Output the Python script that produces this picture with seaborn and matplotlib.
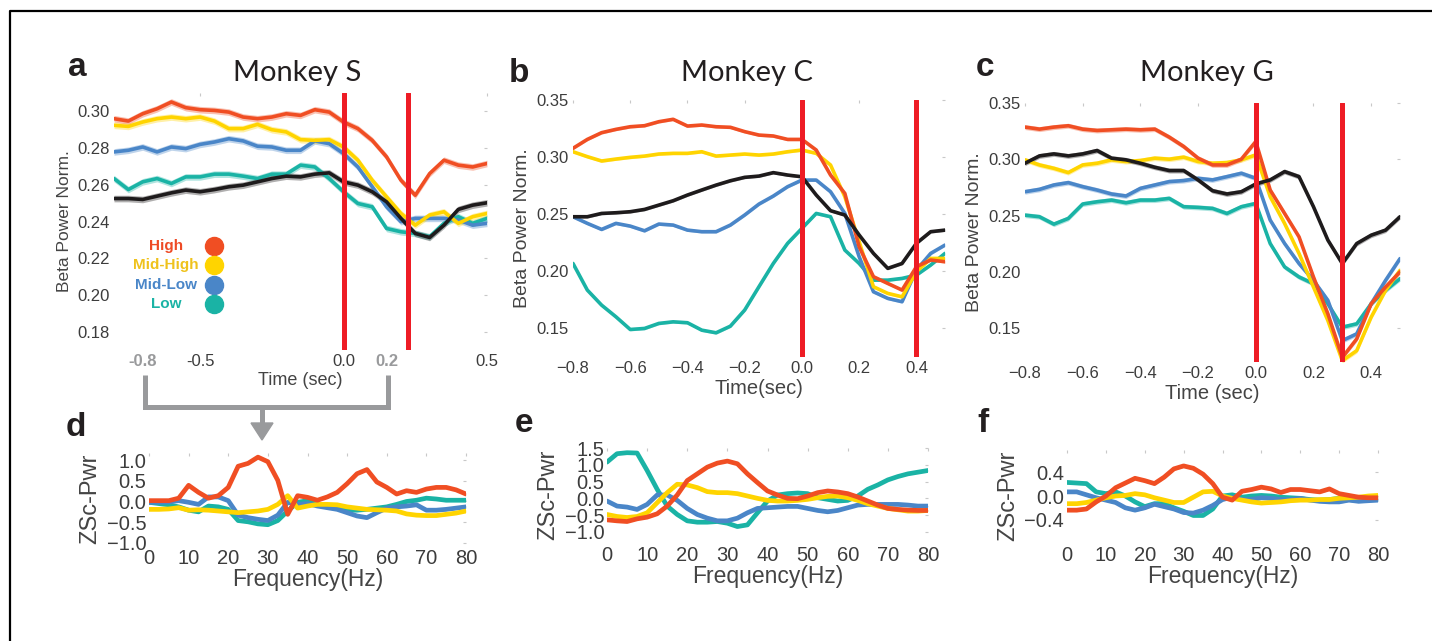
import numpy as np
import seaborn as sns
import matplotlib.pyplot as plt
from matplotlib.lines import Line2D
from matplotlib.patches import Polygon

W, H = 1432, 641

# ---- time axis (sec) for panels a-c
time = [-0.8, -0.75, -0.7, -0.65, -0.6, -0.55, -0.5, -0.45, -0.4, -0.35,
        -0.3, -0.25, -0.2, -0.15, -0.1, -0.05, 0.0, 0.05, 0.1, 0.15,
        0.2, 0.25, 0.3, 0.35, 0.4, 0.45, 0.5]

# Monkey S
s_high = [0.296, 0.2947, 0.2987, 0.3014, 0.3051, 0.302, 0.3009, 0.3005, 0.2996, 0.2969,
          0.296, 0.2969, 0.2987, 0.2978, 0.3009, 0.2996, 0.2942, 0.2906, 0.2842, 0.2752,
          0.2625, 0.2543, 0.2661, 0.2734, 0.2707, 0.2697, 0.2716]
s_midhigh = [0.2924, 0.2918, 0.2942, 0.296, 0.2969, 0.296, 0.2969, 0.2947, 0.2906, 0.2906,
             0.2929, 0.29, 0.2888, 0.2846, 0.2842, 0.2846, 0.2806, 0.2734, 0.2625, 0.2534,
             0.2444, 0.238, 0.2435, 0.2453, 0.239, 0.2426, 0.2444]
s_midlow = [0.2779, 0.2788, 0.2806, 0.2779, 0.2806, 0.2797, 0.282, 0.2833, 0.2851, 0.2839,
            0.281, 0.2806, 0.2788, 0.2788, 0.2839, 0.2824, 0.277, 0.2697, 0.2589, 0.248,
            0.2399, 0.2417, 0.2417, 0.2417, 0.2408, 0.238, 0.239]
s_low = [0.2634, 0.2574, 0.2616, 0.2634, 0.2607, 0.2643, 0.2643, 0.2658, 0.2658, 0.2647,
         0.2634, 0.2658, 0.2658, 0.2707, 0.2697, 0.2634, 0.2562, 0.2498, 0.248, 0.2362,
         0.2344, 0.2335, 0.2317, 0.239, 0.2426, 0.239, 0.2417]
s_all = [0.2525, 0.2525, 0.252, 0.2538, 0.2556, 0.2571, 0.2562, 0.2574, 0.2589, 0.2598,
         0.2616, 0.2634, 0.2647, 0.2643, 0.2658, 0.2665, 0.2616, 0.2598, 0.2562, 0.2507,
         0.2417, 0.2335, 0.2313, 0.238, 0.2466, 0.2489, 0.2502]

# Monkey C
c_high = [0.3077, 0.3155, 0.3214, 0.3243, 0.3266, 0.3275, 0.331, 0.3331, 0.3272, 0.3281,
          0.3266, 0.3261, 0.3223, 0.3193, 0.3185, 0.3155, 0.3155, 0.3062, 0.2843, 0.2682,
          0.2215, 0.1953, 0.1894, 0.1836, 0.204, 0.2099, 0.2084]
c_midhigh = [0.3047, 0.3004, 0.2966, 0.2983, 0.2998, 0.3009, 0.3027, 0.3033, 0.3033, 0.3047,
             0.3009, 0.3018, 0.3027, 0.3018, 0.3027, 0.3047, 0.3062, 0.3033, 0.2931, 0.2653,
             0.2259, 0.1865, 0.1807, 0.1777, 0.1996, 0.2113, 0.2113]
c_midlow = [0.2478, 0.242, 0.2367, 0.242, 0.2396, 0.2355, 0.2414, 0.2405, 0.2361, 0.2347,
            0.2347, 0.2405, 0.2493, 0.2589, 0.2659, 0.2741, 0.2799, 0.2799, 0.2697, 0.2507,
            0.2128, 0.1821, 0.1763, 0.1734, 0.2011, 0.2157, 0.223]
c_low = [0.2069, 0.1836, 0.1704, 0.1602, 0.1491, 0.15, 0.1544, 0.1558, 0.155, 0.1485,
         0.1462, 0.152, 0.1661, 0.1866, 0.2069, 0.2245, 0.2376, 0.2507, 0.2478, 0.2186,
         0.2069, 0.1923, 0.1923, 0.1938, 0.1967, 0.2055, 0.2157]
c_all = [0.2478, 0.2478, 0.2507, 0.2513, 0.2522, 0.2542, 0.258, 0.2618, 0.2668, 0.2712,
         0.2755, 0.2793, 0.2823, 0.2834, 0.2864, 0.2843, 0.2828, 0.2668, 0.2531, 0.2493,
         0.2318, 0.2157, 0.2026, 0.2069, 0.2245, 0.2347, 0.2361]

# Monkey G
g_high = [0.3286, 0.3268, 0.3286, 0.3298, 0.3268, 0.3256, 0.3262, 0.3268, 0.3262, 0.3268,
          0.3197, 0.3114, 0.301, 0.295, 0.295, 0.3001, 0.3158, 0.2727, 0.2519, 0.2311,
          0.1955, 0.1628, 0.1241, 0.1405, 0.1717, 0.1866, 0.2]
g_midhigh = [0.2995, 0.295, 0.292, 0.2882, 0.295, 0.2965, 0.2995, 0.298, 0.2989, 0.301,
             0.3001, 0.3019, 0.298, 0.2965, 0.2971, 0.2995, 0.3039, 0.2668, 0.243, 0.2163,
             0.1866, 0.1568, 0.1212, 0.1301, 0.1598, 0.1836, 0.2014]
g_midlow = [0.2712, 0.2733, 0.2772, 0.2793, 0.2757, 0.2727, 0.2692, 0.2674, 0.2742, 0.2772,
            0.2802, 0.2811, 0.2831, 0.2817, 0.2846, 0.2876, 0.2831, 0.246, 0.2252, 0.2074,
            0.1925, 0.1747, 0.139, 0.145, 0.1717, 0.1925, 0.2118]
g_low = [0.2504, 0.249, 0.2424, 0.2475, 0.2603, 0.2623, 0.2638, 0.2614, 0.2638, 0.2638,
         0.2653, 0.2579, 0.2573, 0.2564, 0.2519, 0.2579, 0.2608, 0.2252, 0.2044, 0.1955,
         0.1895, 0.1717, 0.1509, 0.1539, 0.1717, 0.1836, 0.194]
g_all = [0.2965, 0.303, 0.3048, 0.303, 0.3048, 0.3078, 0.301, 0.2995, 0.2965, 0.2929,
         0.29, 0.29, 0.2817, 0.2721, 0.2692, 0.2712, 0.2781, 0.2817, 0.2891, 0.2846,
         0.2579, 0.2282, 0.2074, 0.2252, 0.2326, 0.2371, 0.249]

# event markers (sec)
s_events = [0.0, 0.225]
c_events = [0.0, 0.4]
g_events = [0.0, 0.3]

# ---- frequency axis (Hz) for panels d-f
freq = [0, 2.5, 5, 7.5, 10, 12.5, 15, 17.5, 20, 22.5, 25, 27.5, 30, 32.5, 35, 37.5,
        40, 42.5, 45, 47.5, 50, 52.5, 55, 57.5, 60, 62.5, 65, 67.5, 70, 72.5, 75, 77.5, 80]

d_high = [0.02, 0.02, 0.02, 0.08, 0.39, 0.22, 0.08, 0.14, 0.34, 0.85, 0.92, 1.07, 0.96, 0.51,
          -0.31, 0.14, 0.10, 0.03, 0.11, 0.22, 0.43, 0.67, 0.77, 0.47, 0.34, 0.18, 0.26, 0.22,
          0.30, 0.34, 0.34, 0.28, 0.18]
d_midhigh = [-0.19, -0.19, -0.18, -0.15, -0.21, -0.20, -0.21, -0.23, -0.25, -0.27, -0.25,
             -0.23, -0.19, -0.07, 0.14, -0.16, -0.11, -0.07, -0.07, -0.08, -0.13, -0.16,
             -0.19, -0.20, -0.21, -0.23, -0.30, -0.33, -0.34, -0.34, -0.31, -0.28, -0.23]
d_midlow = [-0.02, -0.02, -0.01, 0.02, -0.02, -0.07, 0.11, 0.11, 0.02, -0.33, -0.39, -0.43,
            -0.46, -0.33, -0.02, -0.07, -0.05, -0.11, -0.15, -0.19, -0.27, -0.35, -0.39,
            -0.27, -0.16, -0.13, -0.11, -0.08, -0.21, -0.21, -0.19, -0.16, -0.13]
d_low = [-0.02, -0.05, -0.08, -0.13, -0.21, -0.25, -0.11, -0.13, -0.19, -0.46, -0.49, -0.54,
         -0.56, -0.46, -0.23, -0.02, 0.02, -0.08, -0.13, -0.16, -0.21, -0.21, -0.19, -0.16,
         -0.13, -0.07, 0.0, 0.03, 0.08, 0.06, 0.03, 0.03, 0.03]

e_high = [-0.64, -0.67, -0.69, -0.61, -0.56, -0.46, -0.23, 0.10, 0.53, 0.73, 0.93, 1.05, 1.11,
          1.03, 0.73, 0.47, 0.22, 0.10, 0.0, -0.01, 0.07, 0.17, 0.22, 0.19, 0.14, 0.04, -0.08,
          -0.20, -0.30, -0.33, -0.35, -0.36, -0.36]
e_midhigh = [-0.48, -0.54, -0.57, -0.54, -0.43, -0.13, 0.17, 0.42, 0.40, 0.32, 0.20, 0.17,
             0.17, 0.14, 0.07, 0.0, -0.06, -0.08, -0.08, -0.06, -0.03, 0.02, 0.06, 0.07, 0.02,
             -0.06, -0.16, -0.23, -0.30, -0.34, -0.38, -0.38, -0.36]
e_midlow = [-0.08, -0.23, -0.26, -0.33, -0.18, 0.10, 0.10, -0.06, -0.30, -0.48, -0.59, -0.67,
            -0.67, -0.59, -0.43, -0.30, -0.28, -0.26, -0.24, -0.24, -0.30, -0.36, -0.40,
            -0.36, -0.28, -0.20, -0.18, -0.18, -0.18, -0.18, -0.20, -0.23, -0.23]
e_low = [1.08, 1.33, 1.36, 1.35, 0.83, 0.27, -0.23, -0.48, -0.67, -0.71, -0.71, -0.69, -0.74,
         -0.84, -0.79, -0.43, -0.08, 0.10, 0.14, 0.16, 0.14, 0.02, -0.03, -0.08, -0.06, 0.07,
         0.27, 0.40, 0.55, 0.65, 0.73, 0.78, 0.83]

f_high = [-0.24, -0.24, -0.22, -0.10, 0.0, 0.14, 0.22, 0.30, 0.26, 0.21, 0.32, 0.46, 0.51,
          0.47, 0.37, 0.21, -0.02, -0.07, 0.08, 0.11, 0.15, 0.12, 0.06, 0.11, 0.11, 0.09,
          0.07, 0.12, 0.04, 0.01, -0.02, -0.03, -0.03]
f_midhigh = [-0.13, -0.13, -0.11, -0.07, -0.03, 0.0, 0.01, 0.04, 0.02, -0.03, -0.07, -0.11,
             -0.11, -0.02, 0.07, 0.08, 0.0, -0.04, -0.07, -0.10, -0.12, -0.11, -0.10, -0.08,
             -0.07, -0.07, -0.06, -0.06, -0.04, -0.03, -0.02, 0.0, 0.01]
f_midlow = [0.07, 0.07, 0.02, -0.03, -0.07, -0.11, -0.20, -0.24, -0.20, -0.14, -0.18, -0.22,
            -0.28, -0.29, -0.24, -0.16, -0.06, -0.02, -0.06, -0.06, -0.03, -0.04, -0.06,
            -0.06, -0.04, -0.07, -0.09, -0.10, -0.10, -0.07, -0.09, -0.08, -0.07]
f_low = [0.23, 0.22, 0.21, 0.07, 0.04, 0.07, 0.0, -0.10, -0.18, -0.13, -0.13, -0.20, -0.26,
         -0.33, -0.33, -0.22, 0.0, 0.02, -0.02, 0.0, 0.01, 0.0, -0.02, -0.03, -0.04, -0.06,
         -0.07, -0.06, -0.04, -0.06, -0.07, -0.06, -0.06]

legend_labels = ['High', 'Mid-High', 'Mid-Low', 'Low']

# ---- colours
RED = '#F04E23'
YELLOW = '#FFD400'
BLUE = '#4A86C8'
TEAL = '#1AB3A5'
BLACK = '#1E1B1C'
EVENT = '#EE1C25'
GREY_TXT = '#3c3c3c'
BRACKET = '#999a9c'
LEGEND_TXT = ['#EE4A25', '#EFC21C', '#4A86C8', '#1AB3A5']

sns.set_theme(style='white')
plt.rcParams['font.family'] = ['Liberation Sans', 'DejaVu Sans']

fig = plt.figure(figsize=(W / 100, H / 100), dpi=100)


def px_axes(left, top, right, bottom):
    return fig.add_axes([left / W, 1 - bottom / H, (right - left) / W, (bottom - top) / H])


def fx(x):
    return x / W


def fy(y):
    return 1 - y / H


def draw_curves(ax, x, series, sem, lw):
    x = np.asarray(x)
    for y, col in series:
        y = np.asarray(y)
        if sem > 0:
            ax.fill_between(x, y - sem, y + sem, color=col, alpha=0.35, lw=0, zorder=2)
        sns.lineplot(x=x, y=y, ax=ax, color=col, lw=lw, zorder=3)


def style(ax, fs):
    for sp in ax.spines.values():
        sp.set_visible(False)
    ax.tick_params(direction='in', length=2, width=0.8, color='#c8c8c8',
                   top=True, right=True, labelsize=fs, labelcolor=GREY_TXT, pad=3)
    ax.set_xlabel('')
    ax.set_ylabel('')


# ---------------- top row ----------------
top_specs = [
    (px_axes(114, 93, 487, 350), (s_high, s_midhigh, s_midlow, s_low, s_all), s_events,
     (0.17, 0.31), [0.18, 0.20, 0.22, 0.24, 0.26, 0.28, 0.30],
     ['0.18', '0.20', '0.22', '0.24', '0.26', '0.28', '0.30'],
     [-0.5, 0.0, 0.5], ['-0.5', '0.0', '0.5'], 'Time (sec)', 12.5, 13, 0.0018),
    (px_axes(573, 100, 945, 357), (c_high, c_midhigh, c_midlow, c_low, c_all), c_events,
     (0.125, 0.35), [0.15, 0.20, 0.25, 0.30, 0.35], ['0.15', '0.20', '0.25', '0.30', '0.35'],
     [-0.8, -0.6, -0.4, -0.2, 0.0, 0.2, 0.4],
     ['\u22120.8', '\u22120.6', '\u22120.4', '\u22120.2', '0.0', '0.2', '0.4'],
     'Time(sec)', 14, 14.5, 0.0012),
    (px_axes(1025, 103, 1400, 362), (g_high, g_midhigh, g_midlow, g_low, g_all), g_events,
     (0.12, 0.35), [0.15, 0.20, 0.25, 0.30, 0.35], ['0.15', '0.20', '0.25', '0.30', '0.35'],
     [-0.8, -0.6, -0.4, -0.2, 0.0, 0.2, 0.4],
     ['\u22120.8', '\u22120.6', '\u22120.4', '\u22120.2', '0.0', '0.2', '0.4'],
     'Time (sec)', 14, 14.5, 0.0022),
]

top_axes = []
for ax, (hi, mh, ml, lo, al), events, ylim, yt, ytl, xt, xtl, xlab, ylfs, xlfs, sem in top_specs:
    draw_curves(ax, time, [(lo, TEAL), (ml, BLUE), (mh, YELLOW), (hi, RED)], sem, 2.6)
    draw_curves(ax, time, [(al, BLACK)], sem, 2.6)
    for ev in events:
        ax.axvline(ev, color=EVENT, lw=3.6, zorder=5)
    style(ax, 12)
    ax.set_xlim(-0.8, 0.5)
    ax.set_ylim(*ylim)
    ax.set_yticks(yt)
    ax.set_yticklabels(ytl)
    ax.set_xticks(xt)
    ax.set_xticklabels(xtl)
    ax.set_ylabel('Beta Power Norm.', fontsize=ylfs, color='#444444', labelpad=4)
    ax.set_xlabel(xlab, fontsize=xlfs, color='#444444', labelpad=2)
    top_axes.append(ax)

# legend of panel a (axes-fraction placement)
ax_a = top_axes[0]
leg_rows = [0.405, 0.331, 0.253, 0.179]
for lab, txtcol, mcol, yy in zip(legend_labels, LEGEND_TXT, [RED, YELLOW, BLUE, TEAL], leg_rows):
    ax_a.text(0.139, yy, lab, transform=ax_a.transAxes, ha='center', va='center',
              fontsize=11, fontweight='bold', color=txtcol, zorder=6)
    ax_a.plot([0.268], [yy], 'o', ms=13, color=mcol, transform=ax_a.transAxes,
              clip_on=False, zorder=6)

# window markers under panel a
fig.text(fx(143), fy(362), '-0.8', ha='center', va='center', fontsize=12,
         fontweight='bold', color=BRACKET)
fig.text(fx(387), fy(362), '0.2', ha='center', va='center', fontsize=12,
         fontweight='bold', color=BRACKET)
fig.add_artist(Line2D([fx(145), fx(145), fx(388), fx(388)],
                      [fy(375), fy(407), fy(407), fy(375)], lw=3.6, color=BRACKET,
                      solid_joinstyle='miter', solid_capstyle='butt'))
fig.add_artist(Line2D([fx(262), fx(262)], [fy(407), fy(425)], lw=3.6, color=BRACKET,
                      solid_capstyle='butt'))
fig.add_artist(Polygon([(fx(251), fy(423)), (fx(273), fy(423)), (fx(262), fy(440))],
                       closed=True, color=BRACKET, transform=fig.transFigure))

# ---------------- bottom row ----------------
bottom_specs = [
    (px_axes(149, 453, 466, 545), (d_high, d_midhigh, d_midlow, d_low), (-1.05, 1.17),
     [-1.0, -0.5, 0.0, 0.5, 1.0], ['\u22121.0', '\u22120.5', '0.0', '0.5', '1.0'], 0.03),
    (px_axes(607, 448, 928, 542), (e_high, e_midhigh, e_midlow, e_low), (-1.3, 1.5),
     [-1.0, -0.5, 0.0, 0.5, 1.0, 1.5], ['\u22121.0', '\u22120.5', '0.0', '0.5', '1.0', '1.5'], 0.02),
    (px_axes(1067, 450, 1378, 542), (f_high, f_midhigh, f_midlow, f_low), (-0.78, 0.78),
     [-0.4, 0.0, 0.4], ['\u22120.4', '0.0', '0.4'], 0.025),
]

for ax, (hi, mh, ml, lo), ylim, yt, ytl, sem in bottom_specs:
    draw_curves(ax, freq, [(lo, TEAL), (ml, BLUE), (mh, YELLOW), (hi, RED)], sem, 3.4)
    style(ax, 14.5)
    ax.tick_params(axis='y', pad=2)
    ax.tick_params(axis='x', pad=3)
    ax.set_xlim(0, 80)
    ax.set_ylim(*ylim)
    ax.set_yticks(yt)
    ax.set_yticklabels(ytl)
    ax.set_xticks([0, 10, 20, 30, 40, 50, 60, 70, 80])
    ax.set_xticklabels(['0', '10', '20', '30', '40', '50', '60', '70', '80'])
    ax.set_ylabel('ZSc-Pwr', fontsize=17, color='#444444', labelpad=4)
    ax.set_xlabel('Frequency(Hz)', fontsize=16.5, color='#444444', labelpad=0)

# ---------------- titles, letters, frame ----------------
for x, t in [(297, 'Monkey S'), (747, 'Monkey C'), (1207, 'Monkey G')]:
    fig.text(fx(x), fy(73), t, ha='center', va='center', fontsize=21,
             family=['Lato', 'DejaVu Sans'], color='#231F20')
for x, y, t in [(77, 68, 'a'), (519, 73, 'b'), (985, 68, 'c'),
                (76, 428, 'd'), (524, 424, 'e'), (983, 424, 'f')]:
    fig.text(fx(x), fy(y), t, ha='center', va='center', fontsize=24,
             fontweight='bold', color='#231F20')

fig.add_artist(Line2D([fx(10), fx(10), 1.0], [0.0, fy(11), fy(11)], lw=1.6, color='black'))

fig.savefig('out.png', dpi=100)
